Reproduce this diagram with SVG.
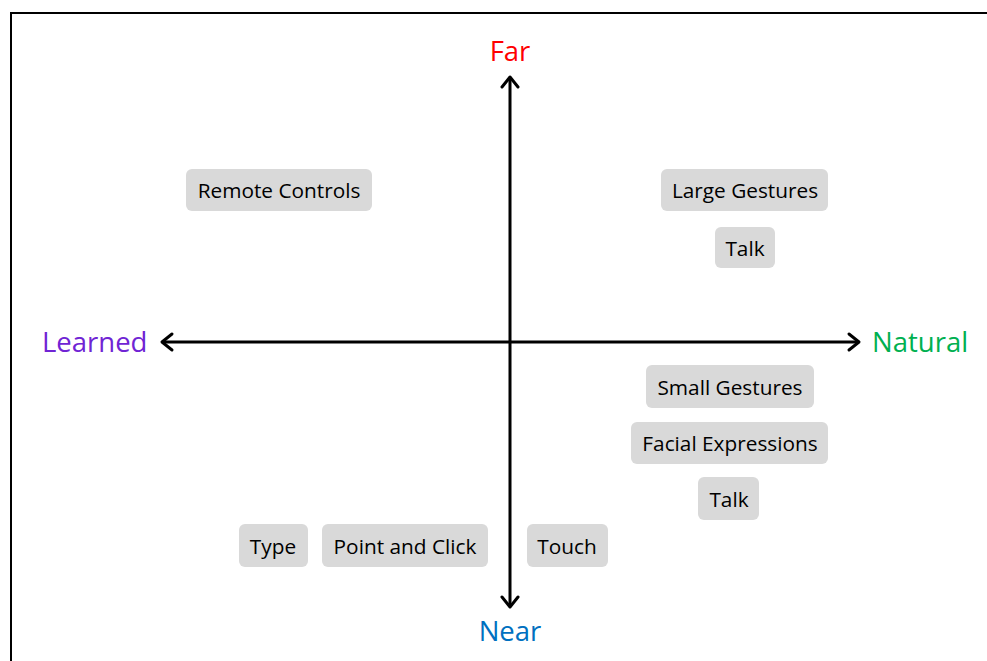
<svg xmlns="http://www.w3.org/2000/svg" width="987" height="661" viewBox="0 0 987 661">
  <style>
    .box { fill: #D9D9D9; }
    .lbl { font-family: "Open Sans", "Noto Sans", sans-serif; font-size: 20.8px; fill: #000; text-anchor: middle; }
    .axis { font-family: "Open Sans", "Noto Sans", sans-serif; font-size: 27.5px; }
    .line { stroke: #000; stroke-width: 3; fill: none; }
    .head { stroke: #000; stroke-width: 3; fill: none; stroke-linecap: round; stroke-linejoin: round; }
  </style>
  <rect width="987" height="661" fill="#fff"/>
  <rect x="11" y="13" width="1100" height="800" fill="none" stroke="#000" stroke-width="2"/>

  <g id="connectors">
    <line class="line" x1="510" y1="77" x2="510" y2="607"/>
    <line class="line" x1="162" y1="342" x2="859" y2="342"/>
    <polyline class="head" points="502,87 510,77 518,87"/>
    <polyline class="head" points="502,597 510,607 518,597"/>
    <polyline class="head" points="172,334 162,342 172,350"/>
    <polyline class="head" points="849,334 859,342 849,350"/>
  </g>

  <g id="axis-far"><text class="axis" x="510" y="61" text-anchor="middle" fill="#FF0000">Far</text></g>
  <g id="axis-near"><text class="axis" x="510" y="641" text-anchor="middle" fill="#0070C0">Near</text></g>
  <g id="axis-learned"><text class="axis" x="42" y="352" fill="#7024D4">Learned</text></g>
  <g id="axis-natural"><text class="axis" x="872" y="352" fill="#00B050">Natural</text></g>

  <g id="remote-controls">
    <rect class="box" x="186" y="169" width="186" height="42" rx="6"/>
    <text class="lbl" x="279" y="197.5">Remote Controls</text>
  </g>
  <g id="large-gestures">
    <rect class="box" x="661" y="169" width="167" height="42" rx="6"/>
    <text class="lbl" x="745" y="197.5">Large Gestures</text>
  </g>
  <g id="talk-far">
    <rect class="box" x="715" y="227" width="60" height="41" rx="6"/>
    <text class="lbl" x="745" y="255.5">Talk</text>
  </g>
  <g id="small-gestures">
    <rect class="box" x="646" y="365" width="168" height="43" rx="6"/>
    <text class="lbl" x="730" y="394.5">Small Gestures</text>
  </g>
  <g id="facial-expressions">
    <rect class="box" x="631" y="422" width="197" height="42" rx="6"/>
    <text class="lbl" x="730" y="450.5">Facial Expressions</text>
  </g>
  <g id="talk-near">
    <rect class="box" x="698" y="477" width="61" height="43" rx="6"/>
    <text class="lbl" x="729" y="506.5">Talk</text>
  </g>
  <g id="type">
    <rect class="box" x="239" y="524" width="69" height="43" rx="6"/>
    <text class="lbl" x="273" y="553.5">Type</text>
  </g>
  <g id="point-and-click">
    <rect class="box" x="322" y="524" width="166" height="43" rx="6"/>
    <text class="lbl" x="405" y="553.5">Point and Click</text>
  </g>
  <g id="touch">
    <rect class="box" x="527" y="524" width="81" height="43" rx="6"/>
    <text class="lbl" x="567" y="553.5">Touch</text>
  </g>
</svg>
